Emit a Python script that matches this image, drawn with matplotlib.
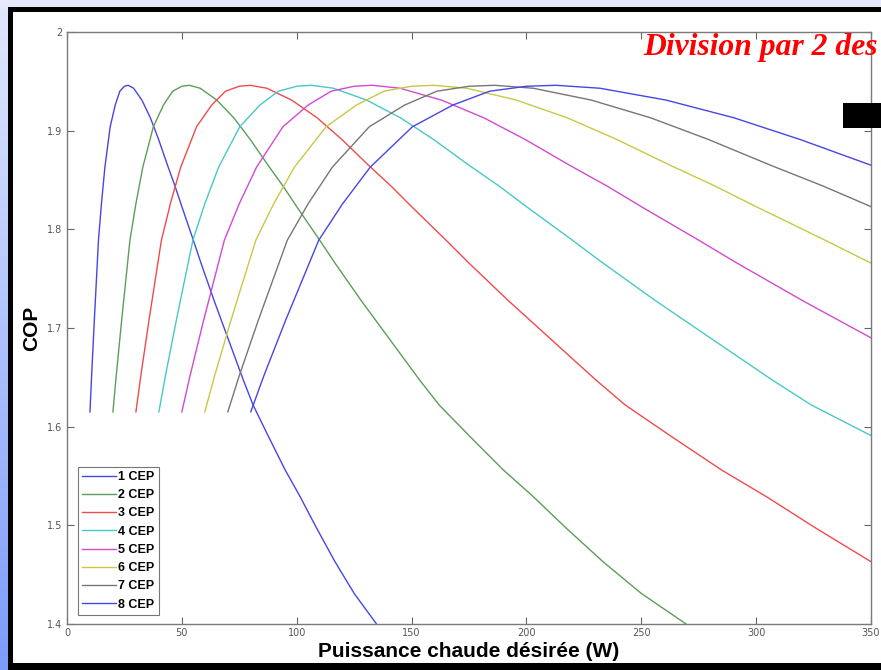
"""
COP as a function of the desired heating power for 1 to 8 CEP modules.
"""

import numpy as np
import matplotlib.pyplot as plt
from matplotlib.colors import LinearSegmentedColormap
from matplotlib.patches import Rectangle


# COP (same levels for every module count)
cop = [1.615, 1.651, 1.708, 1.789, 1.826, 1.863, 1.904, 1.926, 1.940, 1.945,
       1.946, 1.943, 1.931, 1.913, 1.891, 1.865, 1.844, 1.823, 1.789, 1.766,
       1.728, 1.690, 1.647, 1.622, 1.591, 1.556, 1.529, 1.497, 1.463, 1.431,
       1.400]

# desired heating power (W) at those COP levels, one list per curve
power_1cep = [10, 10.7, 11.9, 13.7, 15.0, 16.5, 18.8, 21.0, 23.0, 25.0, 26.6,
              29.0, 32.6, 36.3, 39.9, 43.75, 47, 50, 55, 58.3, 64, 70, 76.8,
              81, 87.5, 95, 101.5, 108.7, 116.7, 125, 134.75]
power_2cep = [20, 21.4, 23.8, 27.4, 30, 33, 37.6, 42, 46, 50, 53.2, 58, 65.2,
              72.6, 79.8, 87.5, 94, 100, 110, 116.6, 128, 140, 153.6, 162, 175,
              190, 203, 217.4, 233.4, 250, 269.5]
power_3cep = [30, 32.1, 35.7, 41.1, 45, 49.5, 56.4, 63, 69, 75, 79.8, 87, 97.8,
              108.9, 119.7, 131.25, 141, 150, 165, 174.9, 192, 210, 230.4, 243,
              262.5, 285, 304.5, 326.1, 350.1, 375]
power_4cep = [40, 42.8, 47.6, 54.8, 60, 66, 75.2, 84, 92, 100, 106.4, 116,
              130.4, 145.2, 159.6, 175, 188, 200, 220, 233.2, 256, 280, 307.2,
              324, 350, 380]
power_5cep = [50, 53.5, 59.5, 68.5, 75, 82.5, 94, 105, 115, 125, 133, 145, 163,
              181.5, 199.5, 218.75, 235, 250, 275, 291.5, 320, 350, 384]
power_6cep = [60, 64.2, 71.4, 82.2, 90, 99, 112.8, 126, 138, 150, 159.6, 174,
              195.6, 217.8, 239.4, 262.5, 282, 300, 330, 349.8, 384]
power_7cep = [70, 74.9, 83.3, 95.9, 105, 115.5, 131.6, 147, 161, 175, 186.2,
              203, 228.2, 254.1, 279.3, 306.25, 329, 350]
power_8cep = [80, 85.6, 95.2, 109.6, 120, 132, 150.4, 168, 184, 200, 212.8,
              232, 260.8, 290.4, 319.2, 350]

labels = ["1 CEP", "2 CEP", "3 CEP", "4 CEP", "5 CEP", "6 CEP", "7 CEP",
          "8 CEP"]
powers = [power_1cep, power_2cep, power_3cep, power_4cep, power_5cep,
          power_6cep, power_7cep, power_8cep]

x_ticks = [0, 50, 100, 150, 200, 250, 300, 350]
y_ticks = [1.4, 1.5, 1.6, 1.7, 1.8, 1.9, 2]

# washed out matlab colours
colors = ["#4646e6", "#5a9e5a", "#f04a4a", "#48c8c8", "#d24ad2", "#c8c846",
          "#767676", "#4646e6"]

W, H = 881, 670


def fx(px):
    return px / W


def fy(py):
    return 1 - py / H


fig = plt.figure(figsize=(W / 100, H / 100), dpi=100)
fig.patch.set_facecolor("#e4eafc")

# slide background in pixel coordinates (y down)
bg = fig.add_axes([0, 0, 1, 1], zorder=-1)
bg.set_axis_off()
grad = np.linspace(0, 1, 256).reshape(-1, 1)
cmap = LinearSegmentedColormap.from_list("slide", ["#e2e8fd", "#7c9cfb"])
bg.imshow(grad, aspect="auto", cmap=cmap, extent=[0, 8, H, 0])
bg.add_patch(Rectangle((0, 0), W, 7, facecolor="#e4eafc", edgecolor="none"))
bg.add_patch(Rectangle((8, 7), W, H, facecolor="black", edgecolor="none"))
bg.add_patch(Rectangle((13, 12), W, 651, facecolor="white", edgecolor="none"))
bg.set_xlim(0, W)
bg.set_ylim(H, 0)

ax = fig.add_axes([fx(67), fy(624), fx(871) - fx(67), fy(32) - fy(624)])
ax.set_facecolor("white")

for p, lab, c in zip(powers, labels, colors):
    ax.plot(p, cop[:len(p)], color=c, lw=1.0, label=lab)

ax.set_xlim(0, 350)
ax.set_ylim(1.4, 2)
ax.set_xticks(x_ticks)
ax.set_yticks(y_ticks)
ax.set_xticklabels([str(v) for v in x_ticks])
ax.set_yticklabels(["1.4", "1.5", "1.6", "1.7", "1.8", "1.9", "2"])
ax.tick_params(direction="in", top=True, right=True, length=5, width=0.8,
               color="#666666", labelcolor="#555555", labelsize=7)
ax.tick_params(axis="x", pad=3)
for s in ax.spines.values():
    s.set_color("#7a7a7a")
    s.set_linewidth(1.0)

ax.set_xlabel("Puissance chaude désirée (W)", family="Liberation Sans",
              fontweight="bold", fontsize=15, labelpad=3)
ax.set_ylabel("COP", family="Liberation Sans", fontweight="bold",
              fontsize=15, labelpad=4)

leg = ax.legend(loc="lower left", bbox_to_anchor=(0.0137, 0.0152),
                borderaxespad=0, fancybox=False, handlelength=2.7,
                labelspacing=0.5, borderpad=0.35, handletextpad=0.15,
                prop={"family": "Liberation Sans", "weight": "bold",
                      "size": 9})
leg.get_frame().set_edgecolor("#555555")
leg.get_frame().set_linewidth(0.8)

# slide overlay: red title and black marker
fig.text(fx(643), fy(48), "Division par 2 des", color="red",
         family="Liberation Serif", fontweight="bold", style="italic",
         fontsize=22.8, va="center", ha="left", zorder=6)
fig.patches.append(Rectangle((fx(843), fy(128)), 1, fy(103) - fy(128),
                             transform=fig.transFigure, facecolor="black",
                             edgecolor="none", zorder=5))

fig.savefig("out.png", dpi=100)
